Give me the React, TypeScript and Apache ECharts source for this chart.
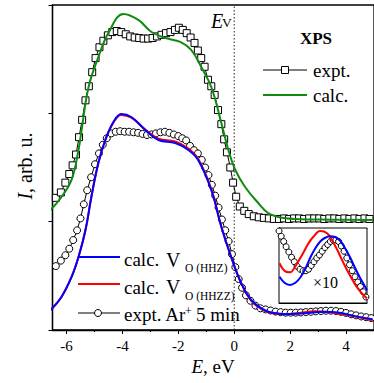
import React, { useEffect, useRef } from 'react';
import * as echarts from 'echarts';

const FONT = '"Liberation Serif", "Times New Roman", serif';

// XPS (upper) curves: [E (eV), intensity]
const xpsExpt: number[][] = [
  [-6.55, 1.18], [-6.38, 1.22], [-6.2, 1.27], [-6.04, 1.36], [-5.9, 1.44], [-5.78, 1.52], [-5.66, 1.62],
  [-5.55, 1.78], [-5.44, 1.94], [-5.32, 2.12], [-5.2, 2.25], [-5.08, 2.38], [-4.96, 2.51], [-4.82, 2.61],
  [-4.68, 2.67], [-4.52, 2.72], [-4.36, 2.75], [-4.2, 2.76], [-4.04, 2.75], [-3.88, 2.73], [-3.72, 2.71],
  [-3.56, 2.7], [-3.4, 2.695], [-3.24, 2.69], [-3.08, 2.69], [-2.92, 2.695], [-2.76, 2.71], [-2.6, 2.725],
  [-2.44, 2.74], [-2.28, 2.75], [-2.12, 2.77], [-1.98, 2.79], [-1.84, 2.77], [-1.7, 2.74], [-1.56, 2.7],
  [-1.42, 2.65], [-1.3, 2.58], [-1.18, 2.51], [-1.06, 2.43], [-0.94, 2.31], [-0.82, 2.25], [-0.7, 2.17],
  [-0.58, 2.03], [-0.46, 1.9], [-0.36, 1.76], [-0.26, 1.64], [-0.14, 1.5], [-0.04, 1.36], [0.07, 1.23],
  [0.2, 1.14], [0.36, 1.1], [0.52, 1.07], [0.7, 1.05], [0.88, 1.04], [1.06, 1.035], [1.24, 1.03],
  [1.42, 1.025], [1.6, 1.025], [1.78, 1.03], [1.96, 1.025], [2.14, 1.03], [2.32, 1.03], [2.5, 1.025],
  [2.68, 1.03], [2.86, 1.03], [3.04, 1.03], [3.22, 1.025], [3.4, 1.03], [3.58, 1.03], [3.76, 1.025],
  [3.94, 1.03], [4.12, 1.025], [4.3, 1.03], [4.48, 1.025], [4.66, 1.03], [4.84, 1.025],
];
const xpsCalc: number[][] = [
  [-6.57, 1.108], [-6.18, 1.228], [-5.82, 1.385], [-5.57, 1.662], [-5.46, 1.846], [-5.21, 2.243],
  [-4.86, 2.52], [-4.5, 2.742], [-3.96, 2.917], [-3.43, 2.862], [-2.96, 2.751], [-2.46, 2.695],
  [-1.93, 2.659], [-1.54, 2.585], [-1.18, 2.428], [-0.82, 2.243], [-0.46, 1.911], [-0.21, 1.662],
  [0.04, 1.477], [0.39, 1.32], [0.86, 1.172], [1.21, 1.08], [1.57, 1.043], [2.18, 1.025], [3.5, 1.018], [4.95, 1.015],
];

// Ar+ (lower) curves
const arExpt: number[][] = [
  [-6.55, 0.54], [-6.38, 0.59], [-6.2, 0.64], [-6.04, 0.69], [-5.9, 0.75], [-5.76, 0.83], [-5.62, 0.92],
  [-5.5, 1.03], [-5.38, 1.16], [-5.26, 1.29], [-5.12, 1.41], [-4.98, 1.53], [-4.84, 1.63], [-4.7, 1.71],
  [-4.56, 1.77], [-4.4, 1.815], [-4.24, 1.83], [-4.08, 1.835], [-3.92, 1.83], [-3.76, 1.83], [-3.6, 1.825],
  [-3.44, 1.82], [-3.28, 1.81], [-3.12, 1.8], [-2.96, 1.805], [-2.8, 1.815], [-2.64, 1.825], [-2.48, 1.83],
  [-2.32, 1.82], [-2.16, 1.805], [-2.0, 1.79], [-1.86, 1.77], [-1.72, 1.75], [-1.58, 1.7], [-1.44, 1.66],
  [-1.3, 1.63], [-1.16, 1.57], [-1.04, 1.5], [-0.92, 1.43], [-0.8, 1.34], [-0.68, 1.24], [-0.56, 1.13],
  [-0.44, 1.02], [-0.32, 0.92], [-0.2, 0.82], [-0.08, 0.7], [0.04, 0.58], [0.16, 0.47], [0.28, 0.39],
  [0.42, 0.32], [0.58, 0.27], [0.76, 0.225], [0.94, 0.2], [1.12, 0.19], [1.3, 0.18], [1.48, 0.17],
  [1.66, 0.165], [1.84, 0.16], [2.02, 0.16], [2.2, 0.16], [2.38, 0.162], [2.56, 0.165], [2.74, 0.168],
  [2.92, 0.172], [3.1, 0.175], [3.28, 0.178], [3.46, 0.178], [3.64, 0.175], [3.82, 0.168], [4.0, 0.158],
  [4.18, 0.145], [4.36, 0.135], [4.54, 0.125], [4.72, 0.118], [4.9, 0.11],
];
const calcHHZ: number[][] = [
  [-6.57, 0.185], [-6.18, 0.305], [-5.82, 0.489], [-5.57, 0.674], [-5.32, 0.923], [-5.11, 1.228],
  [-4.86, 1.542], [-4.61, 1.754], [-4.32, 1.92], [-4.04, 1.994], [-3.68, 1.966], [-3.18, 1.846],
  [-2.71, 1.754], [-2.11, 1.726], [-1.64, 1.662], [-1.29, 1.569], [-0.82, 1.292], [-0.46, 0.951],
  [-0.11, 0.674], [0.25, 0.434], [0.61, 0.277], [1.11, 0.18], [1.57, 0.152], [1.85, 0.146], [2.3, 0.15],
  [2.75, 0.16], [3.25, 0.168], [3.71, 0.162], [4.32, 0.128], [4.95, 0.1],
];
const calcHHZZ: number[][] = [
  [-6.57, 0.185], [-6.18, 0.305], [-5.82, 0.489], [-5.57, 0.674], [-5.32, 0.923], [-5.11, 1.228],
  [-4.86, 1.542], [-4.61, 1.754], [-4.32, 1.915], [-4.04, 1.985], [-3.68, 1.96], [-3.18, 1.85],
  [-2.71, 1.765], [-2.11, 1.74], [-1.64, 1.675], [-1.29, 1.58], [-0.82, 1.3], [-0.46, 0.955],
  [-0.11, 0.675], [0.25, 0.43], [0.61, 0.27], [1.11, 0.175], [1.6, 0.148], [1.85, 0.147], [2.3, 0.158],
  [2.9, 0.172], [3.5, 0.16], [4.0, 0.14], [4.5, 0.115], [4.95, 0.09],
];

// Inset (x10) curves
const insetExpt: number[][] = [
  [1.4, 0.96], [1.48, 0.89], [1.57, 0.82], [1.66, 0.75], [1.76, 0.68], [1.86, 0.61], [1.96, 0.55],
  [2.06, 0.49], [2.17, 0.45], [2.28, 0.43], [2.38, 0.43], [2.48, 0.45], [2.58, 0.5], [2.68, 0.55],
  [2.78, 0.6], [2.88, 0.64], [2.98, 0.69], [3.08, 0.74], [3.18, 0.78], [3.28, 0.82], [3.38, 0.84],
  [3.48, 0.84], [3.58, 0.82], [3.68, 0.76], [3.78, 0.69], [3.88, 0.6], [3.98, 0.51], [4.08, 0.43],
  [4.18, 0.35], [4.28, 0.28], [4.38, 0.22], [4.48, 0.15], [4.58, 0.08],
];
const insetHHZZ: number[][] = [
  [1.42, 0.53], [1.64, 0.42], [1.82, 0.41], [1.93, 0.45], [2.1, 0.55], [2.29, 0.67], [2.47, 0.79],
  [2.65, 0.88], [2.91, 0.96], [3.16, 0.93], [3.35, 0.83], [3.53, 0.71], [3.71, 0.57], [3.89, 0.44],
  [4.07, 0.32], [4.25, 0.21], [4.43, 0.13], [4.62, 0.06],
];
const insetHHZ: number[][] = [
  [1.42, 0.35], [1.6, 0.27], [1.8, 0.24], [2.0, 0.27], [2.18, 0.34], [2.37, 0.46], [2.55, 0.61],
  [2.73, 0.73], [2.91, 0.82], [3.09, 0.87], [3.27, 0.89], [3.45, 0.88], [3.64, 0.83], [3.82, 0.73],
  [4.0, 0.61], [4.18, 0.47], [4.36, 0.34], [4.5, 0.25], [4.62, 0.17],
];

const evLine: number[][] = [[0, 0], [0, 3]];
const xMajorTicks = [-6, -4, -2, 0, 2, 4];
const xMinorTicks = [-5, -3, -1, 1, 3];
const insetTicks = [2, 3, 4];

const BLUE = '#0000ff';
const RED = '#ff0000';
const GREEN = '#118a11';

function txt(x: number, y: number, text: string, size: number, opts: { italic?: boolean; bold?: boolean; align?: string } = {}) {
  const font = `${opts.italic ? 'italic ' : ''}${opts.bold ? 'bold ' : ''}${size}px ${FONT}`;
  return {
    type: 'text', x, y, z: 100,
    style: { text, font, fill: '#000', align: opts.align || 'left', verticalAlign: 'middle' },
  };
}

export default function App() {
  const ref = useRef<HTMLDivElement>(null);
  useEffect(() => {
    const chart = echarts.init(ref.current!, null, { renderer: 'svg' });
    const lineCommon = { type: 'line', showSymbol: false, symbol: 'none', silent: true };
    const option: any = {
      animation: false,
      backgroundColor: '#fff',
      grid: [
        { left: 52.5, top: 5, width: 324, height: 325, show: true, borderColor: '#000', borderWidth: 1.3 },
        { left: 279, top: 228, width: 88, height: 75, show: true, borderColor: '#000', borderWidth: 1, backgroundColor: '#fff', z: 10 },
      ],
      xAxis: [
        {
          gridIndex: 0, type: 'value', min: -6.5, max: 5, position: 'bottom',
          axisLine: { show: true, onZero: false, lineStyle: { color: '#000', width: 1.3 } },
          axisTick: { show: true, inside: false, length: 4, customValues: xMajorTicks, lineStyle: { color: '#000', width: 1 } },
          axisLabel: { show: true, customValues: xMajorTicks, margin: 8, fontFamily: FONT, fontSize: 15, color: '#000' },
          splitLine: { show: false },
        },
        {
          gridIndex: 0, type: 'value', min: -6.5, max: 5, position: 'bottom',
          axisLine: { show: false, onZero: false },
          axisTick: { show: true, inside: false, length: 2, customValues: xMinorTicks, lineStyle: { color: '#000', width: 1 } },
          axisLabel: { show: false },
          splitLine: { show: false },
        },
        {
          gridIndex: 1, type: 'value', min: 1.4, max: 4.62, position: 'bottom',
          axisLine: { show: true, onZero: false, lineStyle: { color: '#000', width: 1 } },
          axisTick: { show: true, inside: true, length: 3, customValues: insetTicks, lineStyle: { color: '#000' } },
          axisLabel: { show: false }, splitLine: { show: false },
        },
        {
          gridIndex: 1, type: 'value', min: 1.4, max: 4.62, position: 'top',
          axisLine: { show: true, onZero: false, lineStyle: { color: '#000', width: 1 } },
          axisTick: { show: true, inside: true, length: 3, customValues: insetTicks, lineStyle: { color: '#000' } },
          axisLabel: { show: false }, splitLine: { show: false },
        },
      ],
      yAxis: [
        {
          gridIndex: 0, type: 'value', min: 0, max: 3, interval: 1, position: 'left',
          axisLine: { show: true, onZero: false, lineStyle: { color: '#000', width: 1.3 } },
          axisTick: { show: true, inside: false, length: 4, lineStyle: { color: '#000', width: 1 } },
          axisLabel: { show: false }, splitLine: { show: false },
        },
        {
          gridIndex: 1, type: 'value', min: 0, max: 1, position: 'left',
          axisLine: { show: true, onZero: false, lineStyle: { color: '#000', width: 1 } },
          axisTick: { show: false }, axisLabel: { show: false }, splitLine: { show: false },
        },
      ],
      series: [
        {
          ...lineCommon, data: evLine, xAxisIndex: 0, yAxisIndex: 0,
          lineStyle: { color: '#222', width: 1, type: [1.5, 2] }, z: 1,
        },
        {
          type: 'line', data: xpsExpt, xAxisIndex: 0, yAxisIndex: 0, symbol: 'rect', symbolSize: 7, showSymbol: true,
          itemStyle: { color: '#fff', borderColor: '#000', borderWidth: 1 }, lineStyle: { color: '#000', width: 1 }, z: 2,
        },
        { ...lineCommon, data: xpsCalc, smooth: 0.4, xAxisIndex: 0, yAxisIndex: 0, lineStyle: { color: GREEN, width: 2 }, z: 3 },
        {
          type: 'line', data: arExpt, xAxisIndex: 0, yAxisIndex: 0, symbol: 'circle', symbolSize: 7, showSymbol: true,
          itemStyle: { color: '#fff', borderColor: '#000', borderWidth: 1 }, lineStyle: { color: '#000', width: 1 }, z: 2,
        },
        { ...lineCommon, data: calcHHZZ, smooth: 0.4, xAxisIndex: 0, yAxisIndex: 0, lineStyle: { color: RED, width: 2 }, z: 3 },
        { ...lineCommon, data: calcHHZ, smooth: 0.4, xAxisIndex: 0, yAxisIndex: 0, lineStyle: { color: BLUE, width: 2 }, z: 4 },
        {
          type: 'line', data: insetExpt, xAxisIndex: 2, yAxisIndex: 1, symbol: 'circle', symbolSize: 6, showSymbol: true,
          itemStyle: { color: '#fff', borderColor: '#000', borderWidth: 1 }, lineStyle: { color: '#000', width: 1 }, z: 12, clip: true,
        },
        { ...lineCommon, data: insetHHZZ, smooth: 0.4, xAxisIndex: 2, yAxisIndex: 1, lineStyle: { color: RED, width: 2 }, z: 13, clip: true },
        { ...lineCommon, data: insetHHZ, smooth: 0.4, xAxisIndex: 2, yAxisIndex: 1, lineStyle: { color: BLUE, width: 2 }, z: 14, clip: true },
      ],
      graphic: [
        // axis titles
        {
          type: 'text', x: 25, y: 166, rotation: Math.PI / 2, z: 100,
          style: {
            text: '{i|I}{n|, arb. u.}', font: `20px ${FONT}`, fill: '#000', align: 'center', verticalAlign: 'middle',
            rich: { i: { font: `italic 20px ${FONT}`, fill: '#000' }, n: { font: `20px ${FONT}`, fill: '#000' } },
          },
        },
        {
          type: 'text', x: 213, y: 366, z: 100,
          style: {
            text: '{i|E}{n|, eV}', font: `19px ${FONT}`, fill: '#000', align: 'center', verticalAlign: 'middle',
            rich: { i: { font: `italic 19px ${FONT}`, fill: '#000' }, n: { font: `19px ${FONT}`, fill: '#000' } },
          },
        },
        // E_V label
        txt(211, 21, 'E', 20, { italic: true }),
        txt(222, 22.5, 'V', 13.5),
        // XPS legend
        txt(316, 38, 'XPS', 17, { bold: true, align: 'center' }),
        { type: 'line', z: 100, shape: { x1: 263, y1: 70, x2: 307, y2: 70 }, style: { stroke: '#000', lineWidth: 1 } },
        { type: 'rect', z: 101, shape: { x: 281.5, y: 66.5, width: 7, height: 7 }, style: { fill: '#fff', stroke: '#000', lineWidth: 1 } },
        txt(313, 70.5, 'expt.', 19),
        { type: 'line', z: 100, shape: { x1: 263, y1: 95, x2: 307, y2: 95 }, style: { stroke: GREEN, lineWidth: 2 } },
        txt(313, 95, 'calc.', 19),
        // lower legend
        { type: 'line', z: 100, shape: { x1: 78, y1: 257, x2: 120, y2: 257 }, style: { stroke: BLUE, lineWidth: 2 } },
        txt(124, 259.5, 'calc.', 19),
        txt(166, 259.5, 'V', 20),
        txt(185, 268, 'O (HHZ)', 11.5),
        { type: 'line', z: 100, shape: { x1: 78, y1: 284, x2: 120, y2: 284 }, style: { stroke: RED, lineWidth: 2 } },
        txt(124, 287, 'calc.', 19),
        txt(166, 287, 'V', 20),
        txt(185, 296, 'O (HHZZ)', 11.5),
        { type: 'line', z: 100, shape: { x1: 78, y1: 313, x2: 120, y2: 313 }, style: { stroke: '#000', lineWidth: 1 } },
        { type: 'circle', z: 101, shape: { cx: 98, cy: 313, r: 3.5 }, style: { fill: '#fff', stroke: '#000', lineWidth: 1 } },
        txt(124, 314, 'expt. Ar', 19),
        txt(185, 310.5, '+', 12),
        txt(196, 314, '5 min', 19),
        // inset label
        txt(313, 282, '×10', 16),
      ],
    };
    chart.setOption(option);
    return () => chart.dispose();
  }, []);
  return <div ref={ref} style={{ position: 'absolute', left: 0, top: 0, width: 374, height: 383, background: '#fff' }} />;
}
